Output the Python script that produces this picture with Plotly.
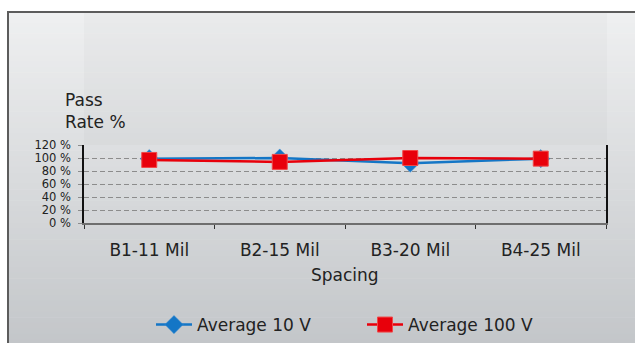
import plotly.graph_objects as go

# Pass-rate data by trace spacing
categories = ["B1-11 Mil", "B2-15 Mil", "B3-20 Mil", "B4-25 Mil"]
avg_10v = [99, 100, 92, 99]
avg_100v = [97, 94, 100, 99]
y_ticks = [0, 20, 40, 60, 80, 100, 120]
y_tick_labels = [f"{v} %" for v in y_ticks]

FONT = "DejaVu Sans"
W, H = 635, 343
L, R, T, B = 84, 29, 145, 120
pw, ph = W - L - R, H - T - B


def px_to_paper_x(px):
    return (px - L) / pw


def px_to_paper_y(py):
    return (H - B - py) / ph


def mix(c1, c2, t):
    return "rgb(%d,%d,%d)" % tuple(round(a + (b - a) * t) for a, b in zip(c1, c2))


shapes = []
# vertical background gradient inside the chart frame
top_c, bot_c = (239, 240, 241), (195, 198, 201)
y0, y1 = 11, H + 2
n = 60
for i in range(n):
    a = y0 + (y1 - y0) * i / n
    b = y0 + (y1 - y0) * (i + 1) / n + 0.6
    shapes.append(dict(
        type="rect", xref="paper", yref="paper", layer="below",
        x0=px_to_paper_x(7), x1=px_to_paper_x(W + 5),
        y0=px_to_paper_y(a), y1=px_to_paper_y(b),
        fillcolor=mix(top_c, bot_c, (i + 0.5) / n), line=dict(width=0),
    ))
# slightly darker band above the plot area
shapes.append(dict(
    type="rect", xref="paper", yref="paper", layer="below",
    x0=px_to_paper_x(L), x1=px_to_paper_x(L + pw + 1),
    y0=px_to_paper_y(11), y1=px_to_paper_y(T),
    fillcolor="rgba(0,0,0,0.02)", line=dict(width=0),
))
# frame border
shapes.append(dict(
    type="rect", xref="paper", yref="paper", layer="below",
    x0=px_to_paper_x(8), x1=px_to_paper_x(W + 5),
    y0=px_to_paper_y(12), y1=px_to_paper_y(H + 5),
    fillcolor="rgba(0,0,0,0)", line=dict(color="#5c5c5c", width=2),
))

fig = go.Figure()
fig.add_trace(go.Scatter(
    x=categories, y=avg_10v, name="Average 10 V", mode="lines+markers",
    line=dict(color="#1476c6", width=2.5),
    marker=dict(symbol="diamond", size=14, color="#1476c6",
                line=dict(color="#3a8fd6", width=0.5)),
))
fig.add_trace(go.Scatter(
    x=categories, y=avg_100v, name="Average 100 V", mode="lines+markers",
    line=dict(color="#e8000b", width=2.5),
    marker=dict(symbol="square", size=15, color="#e8000b",
                line=dict(color="#f04848", width=1)),
))

fig.update_layout(
    width=W, height=H,
    margin=dict(l=L, r=R, t=T, b=B, pad=0, autoexpand=False),
    paper_bgcolor="white",
    plot_bgcolor="rgba(0,0,0,0)",
    font=dict(family=FONT, color="#222222", size=17),
    showlegend=True,
    legend=dict(
        orientation="h", x=px_to_paper_x(362), xanchor="center",
        y=px_to_paper_y(325), yanchor="middle",
        font=dict(family=FONT, size=17, color="#222222"),
        bgcolor="rgba(0,0,0,0)", itemwidth=36, entrywidth=160,
    ),
    shapes=shapes,
    annotations=[
        dict(text="Pass<br>Rate %", xref="paper", yref="paper",
             x=px_to_paper_x(63), y=px_to_paper_y(88),
             xanchor="left", yanchor="top", align="left", showarrow=False,
             font=dict(family=FONT, size=17, color="#222222")),
        dict(text="Spacing", xref="paper", yref="paper",
             x=0.5, y=px_to_paper_y(275), xanchor="center", yanchor="middle",
             showarrow=False, font=dict(family=FONT, size=17, color="#222222")),
    ],
)

fig.update_xaxes(
    type="category", range=[-0.5, 3.5],
    showgrid=False, zeroline=False,
    showline=True, linecolor="#6e6e6e", linewidth=2,
    ticks="outside", tickson="boundaries", ticklen=4, tickcolor="#333333",
    tickwidth=1, ticklabelstandoff=11,
    tickfont=dict(family=FONT, size=17, color="#222222"),
)
fig.update_yaxes(
    range=[0, 120], tickvals=y_ticks, ticktext=y_tick_labels,
    showgrid=True, gridcolor="#8c8c8c", gridwidth=1, griddash="5px,3px",
    zeroline=False,
    showline=True, linecolor="#111111", linewidth=1.5, mirror=True,
    ticks="outside", ticklen=4, tickcolor="#8c8c8c", ticklabelstandoff=5,
    tickfont=dict(family=FONT, size=11.5, color="#222222"),
)

fig.write_html("out.html")
